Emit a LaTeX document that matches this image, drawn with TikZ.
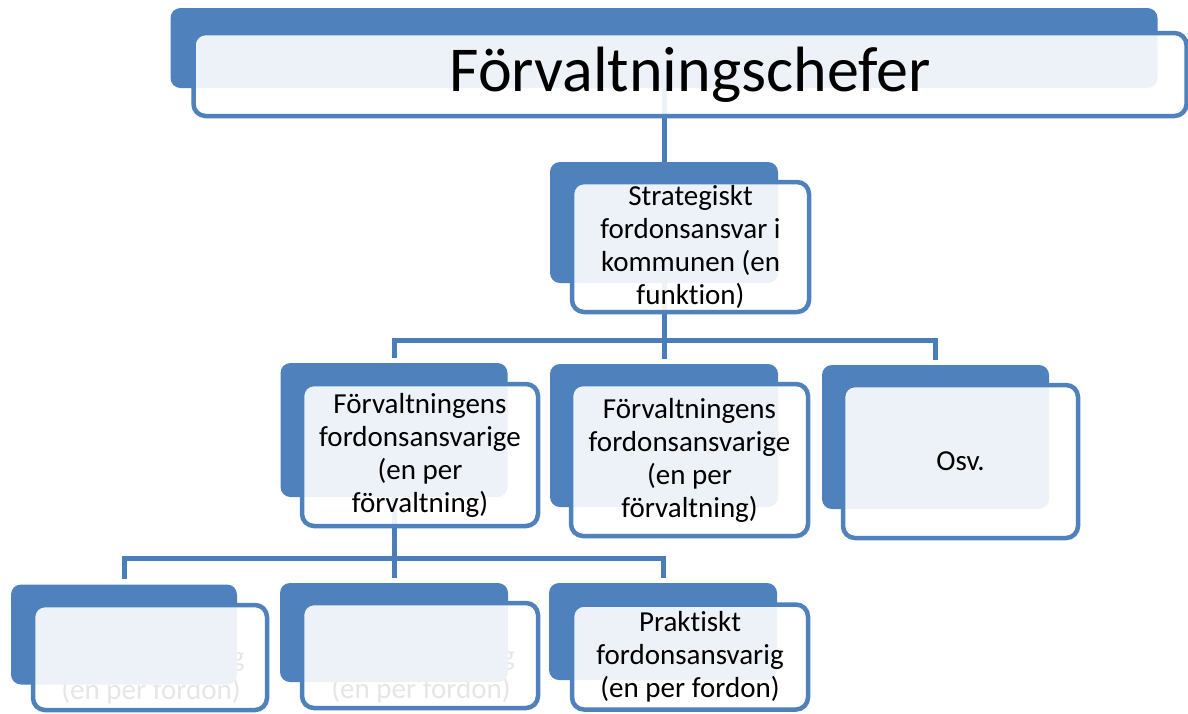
\documentclass[tikz,border=0pt]{standalone}
\usepackage{fontspec}
\setmainfont{Carlito}[Ligatures=NoCommon]
\usepackage{tikz}
\usetikzlibrary{backgrounds}
\definecolor{boxblue}{HTML}{4F81BD}
\definecolor{lineblue}{HTML}{4A7EBB}
\begin{document}
\begin{tikzpicture}[x=1pt,y=-1pt,
back/.style={fill=boxblue, rounded corners=10pt, inner sep=0pt},
front/.style={draw=boxblue, line width=4.5pt, rounded corners=12pt, fill=white, fill opacity=.9, text opacity=1, inner sep=0pt, align=center, font=\fontsize{29}{33}\selectfont},
ghost/.style={align=center, font=\fontsize{29}{33}\selectfont},
conn/.style={draw=lineblue, line width=5pt}]
\useasboundingbox (0,0) rectangle (1188,713);
\coordinate (lvl2) at (664,340);
\coordinate (lvl3) at (394,558);
\node[back, minimum width=987pt, minimum height=80pt] (chefB) at (664,48) {};
\node[front, minimum width=993pt, minimum height=83pt, font=\fontsize{64}{70}\selectfont] (chef) at (690,74.5) {Förvaltningschefer};
\node[back, minimum width=228pt, minimum height=121pt] (stratB) at (664,222.5) {};
\node[front, minimum width=237pt, minimum height=130pt] (strat) at (690.5,247) {Strategiskt\\fordonsansvar i\\kommunen (en\\funktion)};
\node[back, minimum width=227pt, minimum height=134pt] (forv1B) at (394,430) {};
\node[front, minimum width=236pt, minimum height=142pt] (forv1) at (420,455) {Förvaltningens\\fordonsansvarige\\(en per\\förvaltning)};
\node[back, minimum width=228pt, minimum height=143pt] (forv2B) at (664,435.5) {};
\node[front, minimum width=237pt, minimum height=152pt] (forv2) at (689.5,460) {Förvaltningens\\fordonsansvarige\\(en per\\förvaltning)};
\node[back, minimum width=227pt, minimum height=144pt] (osvB) at (935.5,437) {};
\node[front, minimum width=235pt, minimum height=153pt] (osv) at (960.5,461.5) {Osv.};
\node[ghost] (prakt1T) at (151,659) {Praktiskt\\fordonsansvarig\\(en per fordon)};
\node[back, minimum width=226pt, minimum height=100pt] (prakt1B) at (124,634.5) {};
\node[front, minimum width=234pt, minimum height=105pt] (prakt1) at (150,657.5) {};
\node[ghost] (prakt2T) at (421,658) {Praktiskt\\fordonsansvarig\\(en per fordon)};
\node[back, minimum width=228pt, minimum height=99pt] (prakt2B) at (394,632.5) {};
\node[front, minimum width=236pt, minimum height=105pt] (prakt2) at (420,655.5) {};
\node[back, minimum width=228pt, minimum height=97pt] (prakt3B) at (663,631.5) {};
\node[front, minimum width=236pt, minimum height=105pt] (prakt3) at (690,657) {Praktiskt\\fordonsansvarig\\(en per fordon)};
\begin{pgfonlayer}{background}
\draw[conn] (chefB.center) -- (stratB.center) -- (lvl2);
\draw[conn, shorten >=5pt] (lvl2) -| (forv1B.north);
\draw[conn, shorten >=5pt] (lvl2) -- (forv2B.north);
\draw[conn, shorten >=5pt] (lvl2) -| (osvB.north);
\draw[conn] (forv1B.center) -- (lvl3);
\draw[conn, shorten >=5pt] (lvl3) -| (prakt1B.north);
\draw[conn, shorten >=5pt] (lvl3) -- (prakt2B.north);
\draw[conn, shorten >=5pt] (lvl3) -| (prakt3B.north);
\end{pgfonlayer}
\end{tikzpicture}
\end{document}
